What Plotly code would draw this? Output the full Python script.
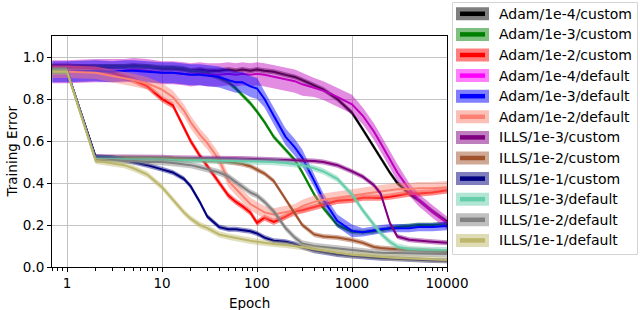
import math
import plotly.graph_objects as go

# ---------------- data ----------------
epochs = [0.7, 1, 2, 3, 4, 5, 7, 10, 13, 17, 20, 25, 30, 40, 50, 60, 70, 85, 100, 120,
          150, 200, 250, 300, 400, 500, 700, 1000, 1300, 1700, 2000, 2500, 3000, 4000,
          5000, 7000, 10000]

adam_1e4_custom = [0.955, 0.955, 0.955, 0.955, 0.955, 0.96, 0.955, 0.945, 0.945, 0.94, 0.935, 0.94,
                   0.935, 0.935, 0.94, 0.935, 0.94, 0.935, 0.94, 0.935, 0.93, 0.915, 0.905, 0.89,
                   0.865, 0.845, 0.80, 0.735, 0.655, 0.57, 0.515, 0.45, 0.40, 0.35, 0.32, 0.265, 0.215]
adam_1e3_custom = [0.955, 0.955, 0.955, 0.955, 0.955, 0.955, 0.955, 0.95, 0.95, 0.945, 0.935, 0.93,
                   0.925, 0.90, 0.88, 0.85, 0.82, 0.78, 0.74, 0.69, 0.62, 0.56, 0.51, 0.45,
                   0.345, 0.28, 0.20, 0.168, 0.165, 0.17, 0.175, 0.185, 0.19, 0.195, 0.20, 0.20, 0.205]
adam_1e2_custom = [0.955, 0.955, 0.945, 0.925, 0.905, 0.89, 0.86, 0.80, 0.77, 0.66, 0.60, 0.53,
                   0.48, 0.40, 0.34, 0.31, 0.29, 0.26, 0.21, 0.235, 0.215, 0.24, 0.265, 0.27,
                   0.285, 0.30, 0.315, 0.32, 0.33, 0.33, 0.33, 0.335, 0.34, 0.35, 0.35, 0.355, 0.365]
adam_1e4_default = [0.93, 0.93, 0.935, 0.935, 0.935, 0.94, 0.935, 0.925, 0.925, 0.92, 0.915, 0.92,
                    0.915, 0.915, 0.92, 0.915, 0.92, 0.915, 0.92, 0.915, 0.905, 0.895, 0.885, 0.87,
                    0.855, 0.84, 0.81, 0.775, 0.72, 0.645, 0.59, 0.51, 0.45, 0.37, 0.32, 0.265, 0.21]
adam_1e3_default = [0.93, 0.93, 0.935, 0.93, 0.935, 0.935, 0.93, 0.925, 0.925, 0.92, 0.915, 0.915,
                    0.91, 0.905, 0.89, 0.88, 0.88, 0.86, 0.85, 0.80, 0.72, 0.62, 0.57, 0.52,
                    0.41, 0.32, 0.22, 0.172, 0.165, 0.175, 0.18, 0.185, 0.185, 0.185, 0.19, 0.19, 0.195]
adam_1e2_default = [0.93, 0.93, 0.925, 0.91, 0.90, 0.89, 0.875, 0.845, 0.81, 0.745, 0.69, 0.63,
                    0.59, 0.51, 0.41, 0.37, 0.34, 0.30, 0.28, 0.26, 0.25, 0.26, 0.27, 0.29,
                    0.31, 0.32, 0.33, 0.34, 0.35, 0.355, 0.36, 0.365, 0.37, 0.37, 0.375, 0.375, 0.38]
ills_1e3_custom = [0.935, 0.935, 0.525, 0.525, 0.525, 0.525, 0.522, 0.522, 0.52, 0.52, 0.52, 0.52,
                   0.518, 0.518, 0.517, 0.517, 0.516, 0.515, 0.515, 0.514, 0.513, 0.512, 0.51, 0.51,
                   0.505, 0.50, 0.485, 0.455, 0.43, 0.39, 0.35, 0.21, 0.145, 0.13, 0.125, 0.12, 0.115]
ills_1e2_custom = [0.935, 0.935, 0.52, 0.52, 0.52, 0.52, 0.518, 0.517, 0.515, 0.513, 0.512, 0.51,
                   0.508, 0.505, 0.50, 0.495, 0.49, 0.48, 0.465, 0.445, 0.41, 0.32, 0.255, 0.20,
                   0.155, 0.145, 0.14, 0.128, 0.115, 0.095, 0.09, 0.087, 0.085, 0.08, 0.078, 0.075, 0.072]
ills_1e1_custom = [0.935, 0.935, 0.525, 0.52, 0.51, 0.50, 0.485, 0.465, 0.45, 0.42, 0.385, 0.31,
                   0.24, 0.19, 0.18, 0.18, 0.175, 0.17, 0.16, 0.14, 0.125, 0.12, 0.11, 0.095,
                   0.078, 0.07, 0.06, 0.052, 0.047, 0.044, 0.042, 0.04, 0.038, 0.035, 0.033, 0.031, 0.03]
ills_1e3_default = [0.935, 0.935, 0.515, 0.515, 0.515, 0.515, 0.513, 0.512, 0.51, 0.51, 0.51, 0.508,
                    0.508, 0.506, 0.505, 0.505, 0.504, 0.503, 0.502, 0.50, 0.50, 0.495, 0.49, 0.485,
                    0.47, 0.455, 0.42, 0.345, 0.27, 0.20, 0.16, 0.12, 0.097, 0.085, 0.082, 0.08, 0.08]
ills_1e2_default = [0.935, 0.935, 0.51, 0.51, 0.505, 0.505, 0.50, 0.50, 0.495, 0.49, 0.485, 0.475,
                    0.465, 0.45, 0.43, 0.405, 0.385, 0.355, 0.34, 0.31, 0.265, 0.185, 0.14, 0.112,
                    0.10, 0.095, 0.09, 0.083, 0.075, 0.07, 0.068, 0.066, 0.065, 0.065, 0.064, 0.063, 0.062]
ills_1e1_default = [0.93, 0.93, 0.505, 0.495, 0.485, 0.47, 0.44, 0.38, 0.32, 0.26, 0.23, 0.20,
                    0.185, 0.155, 0.145, 0.138, 0.13, 0.125, 0.12, 0.115, 0.11, 0.105, 0.10, 0.095,
                    0.085, 0.078, 0.068, 0.058, 0.055, 0.05, 0.048, 0.045, 0.043, 0.04, 0.038, 0.035, 0.033]

# spread (half width of shaded band) per series
sd_adam_1e4_custom = 0.012
sd_adam_1e3_custom = 0.012
sd_adam_1e2_custom = 0.015
sd_adam_1e4_default = [0.055] * 24 + [0.045] * 4 + [0.04] * 5 + [0.03] * 4
sd_adam_1e3_default = [0.05] * 19 + [0.04] * 5 + [0.03] * 4 + [0.02] * 9
sd_adam_1e2_default = 0.03
sd_ills_1e3_custom = 0.012
sd_ills_1e2_custom = 0.012
sd_ills_1e1_custom = 0.012
sd_ills_1e3_default = 0.015
sd_ills_1e2_default = 0.015
sd_ills_1e1_default = 0.015

labels = ["Adam/1e-4/custom", "Adam/1e-3/custom", "Adam/1e-2/custom",
          "Adam/1e-4/default", "Adam/1e-3/default", "Adam/1e-2/default",
          "ILLS/1e-3/custom", "ILLS/1e-2/custom", "ILLS/1e-1/custom",
          "ILLS/1e-3/default", "ILLS/1e-2/default", "ILLS/1e-1/default"]
series = [adam_1e4_custom, adam_1e3_custom, adam_1e2_custom,
          adam_1e4_default, adam_1e3_default, adam_1e2_default,
          ills_1e3_custom, ills_1e2_custom, ills_1e1_custom,
          ills_1e3_default, ills_1e2_default, ills_1e1_default]
spreads = [sd_adam_1e4_custom, sd_adam_1e3_custom, sd_adam_1e2_custom,
           sd_adam_1e4_default, sd_adam_1e3_default, sd_adam_1e2_default,
           sd_ills_1e3_custom, sd_ills_1e2_custom, sd_ills_1e1_custom,
           sd_ills_1e3_default, sd_ills_1e2_default, sd_ills_1e1_default]

# ---------------- styles ----------------
line_colors = ["#000000", "#008000", "#ff0000", "#bf00bf", "#0000ff", "#fa8072",
               "#800080", "#a0522d", "#000080", "#66cdaa", "#808080", "#bdb76b"]
legend_colors = ["#000000", "#008000", "#ff0000", "#ff00ff", "#0000ff", "#fa8072",
                 "#800080", "#a0522d", "#000080", "#66cdaa", "#808080", "#bdb76b"]
FONT = "DejaVu Sans"


def rgba(hex_color, a):
    h = hex_color.lstrip("#")
    r, g, b = int(h[0:2], 16), int(h[2:4], 16), int(h[4:6], 16)
    return f"rgba({r},{g},{b},{a})"


W, H = 640, 310
ML, MR, MT, MB = 52, 193, 36, 43
PW, PH = W - ML - MR, H - MT - MB

fig = go.Figure()
for name, ys, sd, col in zip(labels, series, spreads, line_colors):
    sds = sd if isinstance(sd, list) else [sd] * len(ys)
    lo = [v - s for v, s in zip(ys, sds)]
    hi = [v + s for v, s in zip(ys, sds)]
    fig.add_trace(go.Scatter(x=epochs, y=lo, mode="lines", line=dict(width=0, color=col),
                             showlegend=False, hoverinfo="skip"))
    fig.add_trace(go.Scatter(x=epochs, y=hi, mode="lines", line=dict(width=0, color=col),
                             fill="tonexty", fillcolor=rgba(col, 0.45),
                             showlegend=False, hoverinfo="skip"))
    fig.add_trace(go.Scatter(x=epochs, y=ys, mode="lines", name=name,
                             line=dict(width=2, color=col), showlegend=False))


# ---------------- manual legend (matplotlib style) ----------------
def px_x(px):
    return (px - ML) / PW


def px_y(py):
    return (H - MB - py) / PH


shapes = [dict(type="rect", xref="paper", yref="paper",
               x0=px_x(452.5), x1=px_x(637.5), y0=px_y(254.5), y1=px_y(2.5),
               line=dict(color="#d4d4d4", width=1), fillcolor="rgba(255,255,255,0.8)",
               layer="above")]
annotations = []
for i, (name, col, lcol) in enumerate(zip(labels, line_colors, legend_colors)):
    cy = 13.8 + 20.6 * i
    shapes.append(dict(type="rect", xref="paper", yref="paper",
                       x0=px_x(456), x1=px_x(489), y0=px_y(cy + 6.5), y1=px_y(cy - 6.5),
                       line=dict(width=0), fillcolor=rgba(lcol, 0.5), layer="above"))
    shapes.append(dict(type="line", xref="paper", yref="paper",
                       x0=px_x(460), x1=px_x(485), y0=px_y(cy), y1=px_y(cy),
                       line=dict(color=lcol, width=4.5), layer="above"))
    annotations.append(dict(xref="paper", yref="paper", x=px_x(497), y=px_y(cy),
                            text=name, showarrow=False, xanchor="left", yanchor="middle",
                            font=dict(family=FONT, size=14, color="black")))

# axis titles placed like matplotlib
annotations.append(dict(xref="paper", yref="paper", x=px_x((ML + W - MR) / 2), y=px_y(303),
                        text="Epoch", showarrow=False, xanchor="center", yanchor="middle",
                        font=dict(family=FONT, size=13.5, color="black")))
annotations.append(dict(xref="paper", yref="paper", x=px_x(11), y=px_y(151.5),
                        text="Training Error", showarrow=False, xanchor="center",
                        yanchor="middle", textangle=-90,
                        font=dict(family=FONT, size=13.5, color="black")))

minor_vals = [m * 10 ** d for d in range(-1, 4) for m in range(2, 10) if m * 10 ** d >= 0.7]

fig.update_layout(
    width=W, height=H, autosize=False,
    margin=dict(l=ML, r=MR, t=MT, b=MB, autoexpand=False),
    paper_bgcolor="white", plot_bgcolor="white",
    font=dict(family=FONT, size=13.5, color="black"),
    shapes=shapes, annotations=annotations,
    showlegend=False,
    xaxis=dict(type="log", range=[math.log10(0.695), 4], automargin=False,
               tickvals=[1, 10, 100, 1000, 10000],
               ticktext=["1", "10", "100", "1000", "10000"],
               ticks="outside", ticklen=4, tickwidth=1, tickcolor="black",
               showgrid=True, gridcolor="#c4c4c4", gridwidth=1,
               showline=True, linecolor="black", linewidth=1, mirror=True,
               zeroline=False,
               minor=dict(tickvals=minor_vals, ticks="outside", ticklen=2.5,
                          tickcolor="black", tickwidth=0.8, showgrid=False)),
    yaxis=dict(range=[0, 1.1], automargin=False,
               tickvals=[0, 0.2, 0.4, 0.6, 0.8, 1.0],
               ticktext=["0.0", "0.2", "0.4", "0.6", "0.8", "1.0"],
               ticks="outside", ticklen=4, tickwidth=1, tickcolor="black",
               showgrid=True, gridcolor="#c4c4c4", gridwidth=1,
               showline=True, linecolor="black", linewidth=1, mirror=True,
               zeroline=False),
)

fig.write_html("out.html",
               config={"displayModeBar": False},
               post_script="document.body.style.margin='0';document.body.style.overflow='hidden';")
